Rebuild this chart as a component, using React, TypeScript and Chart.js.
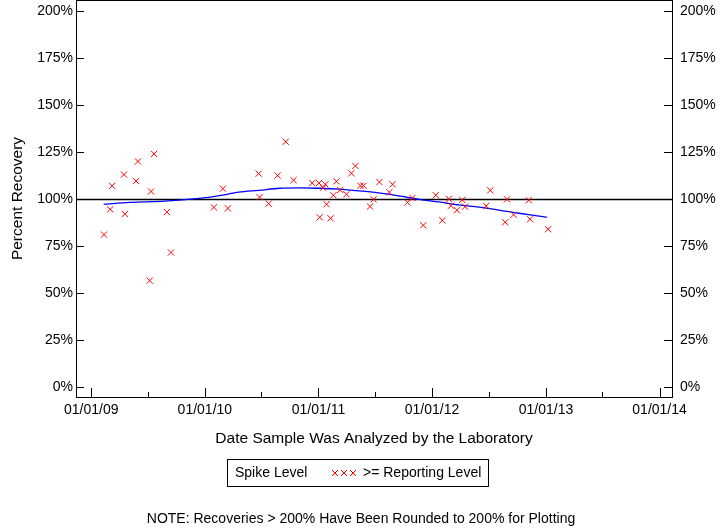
import React, { useEffect, useRef } from "react";
import { Chart, registerables } from "chart.js";

Chart.register(...registerables);

const FONT = "'Liberation Sans', Arial, Helvetica, sans-serif";

// Sample analysis dates and percent recoveries (all >= reporting level)
const sampleDates = [
  "2009-02-11", "2009-03-03", "2009-03-09", "2009-04-16", "2009-04-19", "2009-05-25",
  "2009-05-31", "2009-07-12", "2009-07-08", "2009-07-22", "2009-09-01", "2009-09-14",
  "2010-01-30", "2010-02-28", "2010-03-16", "2010-06-23", "2010-06-26", "2010-07-25",
  "2010-08-23", "2010-09-18", "2010-10-13", "2010-12-12", "2011-01-03", "2011-01-23",
  "2011-01-16", "2011-01-27", "2011-01-05", "2011-02-09", "2011-02-18", "2011-02-28",
  "2011-03-12", "2011-04-01", "2011-04-17", "2011-04-30", "2011-05-16", "2011-05-26",
  "2011-06-16", "2011-06-27", "2011-07-16", "2011-08-17", "2011-08-27", "2011-10-14",
  "2011-10-30", "2011-12-04", "2012-01-13", "2012-02-03", "2012-02-24", "2012-03-02",
  "2012-03-21", "2012-04-07", "2012-04-16", "2012-06-23", "2012-07-06", "2012-08-23",
  "2012-08-29", "2012-09-19", "2012-11-07", "2012-11-11", "2013-01-08",
];
const recoveries = [
  81, 94.5, 107, 113, 92, 109.5,
  120, 104, 56.5, 124, 93, 71.5,
  95.5, 105.5, 95, 113.5, 101, 97.5,
  112.5, 130.5, 110, 108.5, 108.5, 107.8,
  106, 97.2, 90.2, 89.7, 102, 109.4,
  104.8, 102.5, 113.7, 117.6, 107, 107.1,
  96, 99.8, 109, 103.6, 107.8, 98.2,
  100.5, 86, 102, 88.6, 100, 96.4,
  94, 99.5, 95.9, 96.3, 104.6, 87.6,
  99.8, 91.6, 99.3, 89.2, 83.9,
];

// Smoothed trend line
const trendDates = [
  "2009-02-10", "2009-05-05", "2009-08-26", "2009-12-13", "2010-02-17", "2010-04-20",
  "2010-06-24", "2010-08-29", "2010-10-31", "2011-01-04", "2011-03-08", "2011-05-11",
  "2011-07-13", "2011-09-16", "2011-11-20", "2012-01-23", "2012-03-27", "2012-05-31",
  "2012-08-03", "2012-10-06", "2012-12-10", "2013-01-04",
];
const trendValues = [
  97.2, 98.2, 98.8, 100.3, 101.8, 103.6,
  104.6, 105.7, 105.9, 105.7, 105.2, 104.3,
  103.2, 101.6, 99.8, 98.4, 96.8, 95.6,
  94.1, 92.4, 90.9, 90.2,
];

const yTickValues = [0, 25, 50, 75, 100, 125, 150, 175, 200];
const yTickLabels = ["0%", "25%", "50%", "75%", "100%", "125%", "150%", "175%", "200%"];
const xMajorTickDates = ["2009-01-01", "2010-01-01", "2011-01-01", "2012-01-01", "2013-01-01", "2014-01-01"];
const xMajorTickLabels = ["01/01/09", "01/01/10", "01/01/11", "01/01/12", "01/01/13", "01/01/14"];
const xMinorTickDates = ["2009-07-01", "2010-07-01", "2011-07-01", "2012-07-01", "2013-07-01"];

const DAY = 86400000;
const ts = (s: string) => Date.parse(s + "T00:00:00Z");
const X_MIN = ts("2009-01-01") - 49 * DAY;
const X_MAX = ts("2014-01-01") + 40 * DAY;
const Y_MIN = -5.5;
const Y_MAX = 206;

const decorPlugin = {
  id: "decor",
  beforeDatasetsDraw(chart: any) {
    const { ctx, chartArea, scales } = chart;
    const y100 = Math.round(scales.y.getPixelForValue(100)) + 0.5;
    ctx.save();
    ctx.strokeStyle = "#000";
    ctx.lineWidth = 1.5;
    ctx.beginPath();
    ctx.moveTo(chartArea.left, y100);
    ctx.lineTo(chartArea.right, y100);
    ctx.stroke();
    ctx.restore();
  },
  afterDraw(chart: any) {
    const { ctx, chartArea, scales } = chart;
    const { left, right, top, bottom } = chartArea;
    ctx.save();
    ctx.strokeStyle = "#000";
    ctx.lineWidth = 1;
    // frame
    ctx.strokeRect(left + 0.5, top + 0.5, right - left, bottom - top);
    // y ticks (both sides, inward)
    ctx.beginPath();
    yTickValues.forEach((v) => {
      const py = Math.round(scales.y.getPixelForValue(v)) + 0.5;
      ctx.moveTo(left, py);
      ctx.lineTo(left + 8, py);
      ctx.moveTo(right - 8, py);
      ctx.lineTo(right + 1, py);
    });
    // x ticks (inward)
    xMajorTickDates.forEach((d) => {
      const px = Math.round(scales.x.getPixelForValue(ts(d))) + 0.5;
      ctx.moveTo(px, bottom + 0.5);
      ctx.lineTo(px, bottom - 9);
    });
    xMinorTickDates.forEach((d) => {
      const px = Math.round(scales.x.getPixelForValue(ts(d))) + 0.5;
      ctx.moveTo(px, bottom + 0.5);
      ctx.lineTo(px, bottom - 5);
    });
    ctx.stroke();

    // axis titles
    ctx.fillStyle = "#000";
    ctx.font = `15.5px ${FONT}`;
    ctx.textAlign = "center";
    ctx.textBaseline = "middle";
    ctx.fillText("Date Sample Was Analyzed by the Laboratory", (left + right) / 2, 439);
    ctx.save();
    ctx.translate(18, (top + bottom) / 2);
    ctx.rotate(-Math.PI / 2);
    ctx.fillText("Percent Recovery", 0, 0);
    ctx.restore();

    // legend
    ctx.strokeRect(227.5, 459.5, 261, 27);
    ctx.font = `14px ${FONT}`;
    ctx.textAlign = "left";
    ctx.fillText("Spike Level", 235, 473);
    ctx.fillText(">= Reporting Level", 363, 473);
    ctx.strokeStyle = "#ff0000";
    ctx.beginPath();
    [335, 344, 353].forEach((cx) => {
      const cy = 473;
      const r = 3;
      ctx.moveTo(cx - r, cy - r);
      ctx.lineTo(cx + r, cy + r);
      ctx.moveTo(cx - r, cy + r);
      ctx.lineTo(cx + r, cy - r);
    });
    ctx.stroke();

    // note
    ctx.textAlign = "center";
    ctx.fillText("NOTE: Recoveries > 200% Have Been Rounded to 200% for Plotting", 361, 519);
    ctx.restore();
  },
};

export default function App() {
  const canvasRef = useRef<HTMLCanvasElement | null>(null);

  useEffect(() => {
    const canvas = canvasRef.current;
    if (!canvas) return;
    const yAxisCommon = (pos: "left" | "right", width: number, pad: number) => ({
      type: "linear" as const,
      position: pos,
      min: Y_MIN,
      max: Y_MAX,
      grid: { display: false, drawTicks: false },
      border: { display: false },
      afterBuildTicks: (s: any) => {
        s.ticks = yTickValues.map((v) => ({ value: v }));
      },
      ticks: {
        autoSkip: false,
        padding: pad,
        color: "#000",
        font: { family: FONT, size: 14 },
        callback: (_v: any, i: number) => yTickLabels[i],
      },
      afterFit: (s: any) => {
        s.width = width;
        s.paddingTop = 0;
        s.paddingBottom = 0;
      },
    });

    const chart = new Chart(canvas, {
      type: "scatter",
      data: {
        datasets: [
          {
            type: "scatter",
            label: ">= Reporting Level",
            data: sampleDates.map((d, i) => ({ x: ts(d), y: recoveries[i] })),
            pointStyle: "crossRot",
            pointRadius: 4.4,
            pointBorderWidth: 1,
            borderColor: "#ff0000",
            backgroundColor: "#ff0000",
            showLine: false,
            yAxisID: "y",
          },
          {
            type: "line",
            label: "Trend",
            data: trendDates.map((d, i) => ({ x: ts(d), y: trendValues[i] })),
            borderColor: "#0000ff",
            borderWidth: 1.3,
            pointRadius: 0,
            tension: 0.4,
            cubicInterpolationMode: "monotone",
            fill: false,
            yAxisID: "y",
          },
        ],
      } as any,
      options: {
        responsive: false,
        animation: false,
        events: [],
        layout: { padding: 0, autoPadding: false },
        plugins: {
          legend: { display: false },
          tooltip: { enabled: false },
          title: { display: false },
        },
        scales: {
          x: {
            type: "linear",
            position: "bottom",
            min: X_MIN,
            max: X_MAX,
            grid: { display: false, drawTicks: false },
            border: { display: false },
            afterBuildTicks: (s: any) => {
              s.ticks = xMajorTickDates.map((d) => ({ value: ts(d) }));
            },
            ticks: {
              autoSkip: false,
              maxRotation: 0,
              minRotation: 0,
              padding: 5,
              color: "#000",
              font: { family: FONT, size: 14 },
              callback: (_v: any, i: number) => xMajorTickLabels[i],
            },
            afterFit: (s: any) => {
              s.height = 131;
              s.paddingLeft = 0;
              s.paddingRight = 0;
            },
          },
          y: yAxisCommon("left", 76, 3),
          y2: yAxisCommon("right", 48, 8),
        },
      } as any,
      plugins: [decorPlugin],
    });
    return () => chart.destroy();
  }, []);

  return (
    <div style={{ position: "fixed", left: 0, top: 0, width: 720, height: 528, background: "#fff" }}>
      <canvas ref={canvasRef} width={720} height={528} style={{ width: 720, height: 528, display: "block" }} />
    </div>
  );
}
